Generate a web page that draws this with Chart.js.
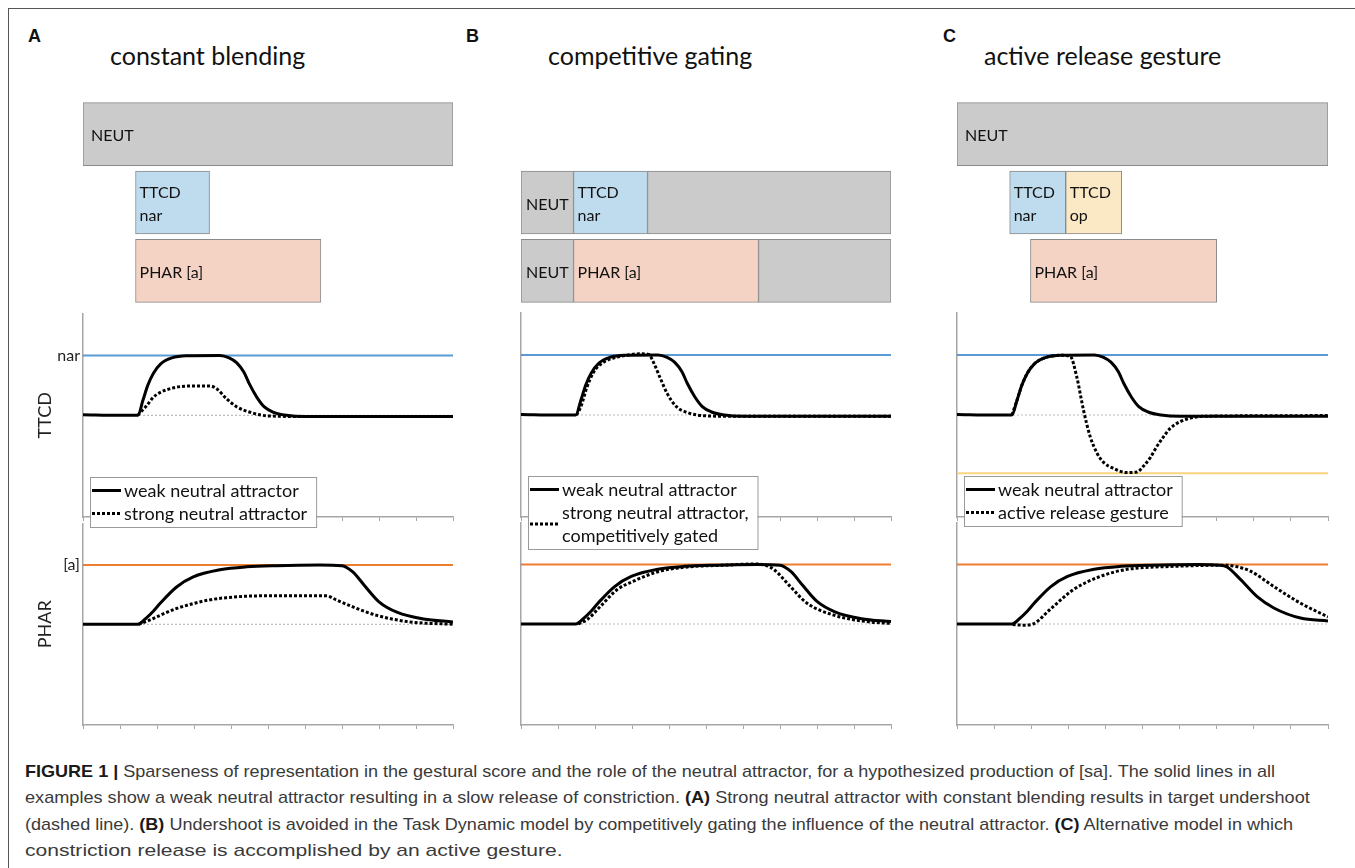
<!DOCTYPE html>
<html>
<head>
<meta charset="utf-8">
<script src="https://cdn.jsdelivr.net/npm/chart.js@4.4.1/dist/chart.umd.min.js"></script>
<style>
  body { margin: 0; width: 1355px; height: 868px; position: relative; overflow: hidden; background: #fff; font-family: Lato, sans-serif; }
  canvas { position: absolute; }
  .frameTop { position: absolute; left: 8px; top: 8px; right: 0; border-top: 1.5px solid #555; }
  .frameLeft { position: absolute; left: 8px; top: 8px; bottom: 0; border-left: 1.5px solid #555; }
  .letter { position: absolute; font: bold 18px/18px "Liberation Sans", Arial, sans-serif; color: #111; }
  .title { position: absolute; font-size: 25px; line-height: 25px; color: #111; white-space: nowrap; }
  .capline { position: absolute; left: 25px; font-family: "Liberation Sans Narrow", "Liberation Sans", sans-serif; font-size: 17px; line-height: 20px; color: #3a3a3a; white-space: nowrap; transform-origin: 0 0; }
  .capline b { color: #1a1a1a; }
</style>
</head>
<body>
<div class="frameTop"></div>
<div class="frameLeft"></div>

<div class="letter" style="left:28px;top:27px">A</div>
<div class="letter" style="left:466px;top:27px">B</div>
<div class="letter" style="left:943px;top:27px">C</div>
<div class="title" style="left:110px;top:43px">constant blending</div>
<div class="title" style="left:548px;top:43px">competitive gating</div>
<div class="title" style="left:984px;top:43px">active release gesture</div>

<div class="capline" data-w="1250" style="top:762px"><b>FIGURE 1 |</b> Sparseness of representation in the gestural score and the role of the neutral attractor, for a hypothesized production of [sa]. The solid lines in all</div>
<div class="capline" data-w="1285" style="top:788px">examples show a weak neutral attractor resulting in a slow release of constriction. <b>(A)</b> Strong neutral attractor with constant blending results in target undershoot</div>
<div class="capline" data-w="1268" style="top:815px">(dashed line). <b>(B)</b> Undershoot is avoided in the Task Dynamic model by competitively gating the influence of the neutral attractor. <b>(C)</b> Alternative model in which</div>
<div class="capline" data-w="538" style="top:841px">constriction release is accomplished by an active gesture.</div>

<script>
"use strict";

// time axis and value range shared by every panel
const timeTicks = [0, 1, 2, 3, 4, 5, 6, 7, 8, 9, 10];
const yRange = [-1.7, 1.7];
const restValue = 0;
const narTarget = 1;
const aTarget = 1;
const opTarget = -0.97;
const ttcdTickLabel = ["nar"];
const pharTickLabel = ["[a]"];

// gestural scores: [row, start, end, gesture, text]
const scoreRows = ["r0", "r1", "r2"];
const scoreA = [[0, 0, 10, "neut", "NEUT"], [1, 1.42, 3.42, "nar", "TTCD\nnar"], [2, 1.42, 6.43, "phar", "PHAR [a]"]];
const scoreB = [[1, 0, 1.42, "neut", "NEUT"], [1, 1.42, 3.42, "nar", "TTCD\nnar"], [1, 3.42, 10, "neut", ""],
                [2, 0, 1.42, "neut", "NEUT"], [2, 1.42, 6.42, "phar", "PHAR [a]"], [2, 6.42, 10, "neut", ""]];
const scoreC = [[0, 0, 10, "neut", "NEUT"], [1, 1.42, 2.93, "nar", "TTCD\nnar"], [1, 2.93, 4.44, "op", "TTCD\nop"], [2, 1.98, 7.0, "phar", "PHAR [a]"]];

// trajectories: [time, value]
const weakTTCD = [[0, 0.01], [1.0, 0], [1.48, 0], [1.62, 0.25], [1.75, 0.5], [1.9, 0.7], [2.1, 0.86], [2.4, 0.96], [2.8, 0.995], [3.7, 1.0],
                  [3.95, 0.96], [4.15, 0.88], [4.35, 0.72], [4.5, 0.52], [4.7, 0.3], [4.9, 0.14], [5.15, 0.05], [5.5, 0.0], [6.0, -0.02], [10, -0.02]];
const strongTTCD_A = [[1.48, 0], [1.6, 0.08], [1.72, 0.16], [1.9, 0.3], [2.08, 0.38], [2.45, 0.46], [2.9, 0.49], [3.44, 0.49], [3.62, 0.44],
                      [3.89, 0.27], [4.16, 0.14], [4.52, 0.05], [5.0, -0.01], [6.0, -0.02], [10, -0.02]];
const gatedTTCD_B = [[1.5, 0], [1.62, 0.14], [1.78, 0.46], [1.95, 0.7], [2.1, 0.82], [2.4, 0.93], [2.8, 0.99], [3.2, 1.02], [3.45, 1.01],
                     [3.6, 0.85], [3.76, 0.62], [3.95, 0.36], [4.2, 0.14], [4.5, 0.04], [4.9, -0.01], [5.5, -0.02], [10, -0.02]];
const activeTTCD_C = [[1.48, 0], [1.62, 0.25], [1.75, 0.5], [1.9, 0.7], [2.1, 0.86], [2.4, 0.96], [2.8, 0.995], [3.05, 0.98], [3.23, 0.63],
                      [3.41, 0.08], [3.59, -0.36], [3.77, -0.63], [3.95, -0.79], [4.22, -0.89], [4.58, -0.96], [4.85, -0.95], [5.03, -0.85],
                      [5.21, -0.71], [5.39, -0.52], [5.57, -0.36], [5.75, -0.22], [6.02, -0.11], [6.38, -0.04], [6.74, -0.02], [10, -0.01]];

const weakPHAR = [[0, 0], [1.48, 0], [1.7, 0.1], [1.9, 0.22], [2.08, 0.35], [2.53, 0.63], [2.98, 0.8], [3.7, 0.92], [4.42, 0.97], [5.23, 0.99],
                  [6.4, 1.0], [7.0, 0.99], [7.3, 0.88], [7.6, 0.66], [8.0, 0.38], [8.5, 0.2], [9.2, 0.09], [10, 0.04]];
const weakPHAR_C = [[0, 0], [1.48, 0], [1.7, 0.1], [1.9, 0.22], [2.08, 0.35], [2.53, 0.63], [2.98, 0.8], [3.7, 0.92], [4.42, 0.97], [5.23, 0.99],
                    [6.5, 1.0], [7.1, 0.99], [7.28, 0.96], [7.64, 0.75], [8.09, 0.46], [8.54, 0.27], [9.26, 0.1], [10, 0.05]];
const strongPHAR_A = [[1.5, 0], [1.8, 0.07], [2.08, 0.15], [2.5, 0.26], [2.98, 0.35], [3.4, 0.41], [3.88, 0.45], [4.78, 0.48], [6.58, 0.48],
                      [6.85, 0.41], [7.31, 0.29], [7.94, 0.15], [8.84, 0.04], [10, 0.0]];
const gatedPHAR_B = [[1.55, 0], [1.8, 0.08], [2.15, 0.3], [2.6, 0.58], [3.04, 0.72], [3.7, 0.88], [4.5, 0.96], [5.5, 0.99], [6.3, 1.01],
                     [6.6, 0.99], [6.83, 0.92], [7.28, 0.63], [7.73, 0.35], [8.45, 0.15], [9.35, 0.04], [10, 0.01]];
const activePHAR_C = [[1.5, -0.01], [1.8, -0.02], [2.05, 0], [2.5, 0.24], [3.14, 0.58], [3.86, 0.8], [4.58, 0.92], [5.84, 0.97], [7.27, 0.99],
                      [7.5, 0.97], [7.91, 0.89], [8.54, 0.63], [9.26, 0.35], [10, 0.12]];

const legendA = ["weak neutral attractor", "strong neutral attractor"];
const legendB = ["weak neutral attractor", "strong neutral attractor,\ncompetitively gated"];
const legendC = ["weak neutral attractor", "active release gesture"];


// layout
const cols = [{ x: 83, w: 370 }, { x: 521, w: 370 }, { x: 957, w: 371 }];
const AXIS_W = 70, PAD_R = 6, PAD_T = 12;
const gestureFill = { neut: "#cbcbcb", nar: "#bfdcef", op: "#fbe8c4", phar: "#f5d3c4" };
const FONT = "Lato, sans-serif";

function makeCanvas(left, top, width, height) {
    let c = document.createElement("canvas");
    c.width = width;
    c.height = height;
    c.style.left = left + "px";
    c.style.top = top + "px";
    c.style.width = width + "px";
    c.style.height = height + "px";
    document.body.appendChild(c);
    return c.getContext("2d");
}

// legend box floating over the plot, partly outside the chart area
const floatLegend = {
    id: "floatLegend",
    afterDraw(chart, args, opts) {
        if (!opts.items) return;
        let ctx = chart.ctx, area = chart.chartArea;
        let lineH = 23, padY = 2, padX = 2, sample = 29, gap = 3;
        ctx.save();
        ctx.font = "18px " + FONT;
        let maxW = 0, nLines = 0;
        opts.items.forEach(function(i) {
            chart.data.datasets[i].label.split("\n").forEach(function(l) {
                maxW = Math.max(maxW, ctx.measureText(l).width);
                nLines++;
            });
        });
        let x0 = Math.round(area.left + 7), y0 = Math.round(area.top + 163);
        let w = padX + sample + gap + maxW + 9, h = nLines * lineH + padY * 2;
        ctx.fillStyle = "#fff";
        ctx.fillRect(x0, y0, w, h);
        ctx.strokeStyle = "#9a9a9a";
        ctx.lineWidth = 1;
        ctx.strokeRect(x0 + 0.5, y0 + 0.5, w, h);
        let y = y0 + padY;
        opts.items.forEach(function(i) {
            let ds = chart.data.datasets[i];
            let lines = ds.label.split("\n");
            let mid = y + lines.length * lineH / 2;
            ctx.beginPath();
            ctx.setLineDash(ds.borderDash || []);
            ctx.strokeStyle = ds.borderColor;
            ctx.lineWidth = ds.borderWidth;
            ctx.moveTo(x0 + padX, mid);
            ctx.lineTo(x0 + padX + sample, mid);
            ctx.stroke();
            ctx.setLineDash([]);
            ctx.fillStyle = "#111";
            ctx.textBaseline = "middle";
            lines.forEach(function(l, k) {
                ctx.fillText(l, x0 + padX + sample + gap, y + lineH * (k + 0.5) + 1);
            });
            y += lines.length * lineH;
        });
        ctx.restore();
    }
};

// gesture names written inside the score boxes
const boxText = {
    id: "boxText",
    afterDatasetsDraw(chart) {
        let ctx = chart.ctx;
        chart.data.datasets.forEach(function(ds, di) {
            chart.getDatasetMeta(di).data.forEach(function(bar, i) {
                let text = ds.texts[i];
                if (!text) return;
                let p = bar.getProps(["x", "y", "base"], true);
                let left = Math.min(p.x, p.base), width = Math.abs(p.x - p.base);
                let lines = text.split("\n");
                ctx.save();
                ctx.font = "16px " + FONT;
                ctx.fillStyle = "#111";
                ctx.textBaseline = "middle";
                ctx.textAlign = "left";
                let tx = left + 4;
                if (width > 300) tx = left + 8;
                else if (text === "NEUT") { ctx.textAlign = "center"; tx = left + width / 2; }
                lines.forEach(function(l, k) {
                    ctx.fillText(l, tx, p.y + (k - (lines.length - 1) / 2) * 22.5 + 2);
                });
                ctx.restore();
            });
        });
    }
};

function drawScore(col, score) {
    let ctx = makeCanvas(col.x - 6, 90, col.w + 12, 225);
    return new Chart(ctx, {
        type: "bar",
        data: {
            labels: scoreRows,
            datasets: [{
                data: score.map(s => ({ y: scoreRows[s[0]], x: [s[1], s[2]] })),
                backgroundColor: score.map(s => gestureFill[s[3]]),
                texts: score.map(s => s[4]),
                borderColor: "#8a8a8a",
                borderWidth: 1,
                borderSkipped: false,
                barThickness: 63
            }]
        },
        options: {
            indexAxis: "y",
            responsive: false,
            animation: false,
            layout: { padding: { left: 6, right: 6, top: 10, bottom: 10 } },
            plugins: { legend: { display: false }, tooltip: { enabled: false } },
            scales: {
                x: { type: "linear", min: 0, max: 10, display: false },
                y: { type: "category", display: false }
            }
        },
        plugins: [boxText]
    });
}

const pts = arr => arr.map(p => ({ x: p[0], y: p[1] }));
const flat = v => [{ x: timeTicks[0], y: v }, { x: timeTicks[timeTicks.length - 1], y: v }];

function solidLine(data, label) {
    return { label: label, data: pts(data), borderColor: "#000", borderWidth: 3 };
}
function dottedLine(data, label) {
    return { label: label, data: pts(data), borderColor: "#000", borderWidth: 3, borderDash: [3, 2] };
}
function targetLine(v, color) {
    return { data: flat(v), borderColor: color, borderWidth: 2 };
}
function restLine() {
    return { data: flat(restValue), borderColor: "#bdbdbd", borderWidth: 1.2, borderDash: [2, 2] };
}

function drawPanel(col, areaTop, areaH, padBottom, datasets, axisTitle, tickValue, tickLabel, legendItems) {
    let ctx = makeCanvas(col.x - AXIS_W, areaTop - PAD_T, AXIS_W + col.w + PAD_R, PAD_T + areaH + 6 + padBottom);
    let labelled = axisTitle !== null;
    return new Chart(ctx, {
        type: "line",
        data: { datasets: datasets },
        options: {
            responsive: false,
            animation: false,
            layout: { padding: { top: PAD_T, right: PAD_R, bottom: padBottom, left: 0 } },
            elements: { point: { radius: 0 }, line: { cubicInterpolationMode: "monotone", fill: false } },
            plugins: {
                legend: { display: false },
                tooltip: { enabled: false },
                floatLegend: { items: legendItems }
            },
            scales: {
                x: {
                    type: "linear", min: timeTicks[0], max: timeTicks[timeTicks.length - 1],
                    afterBuildTicks: s => { s.ticks = timeTicks.map(v => ({ value: v })); },
                    ticks: { display: false },
                    grid: { drawOnChartArea: false, drawTicks: true, tickLength: 4, color: "#a6a6a6" },
                    border: { color: "#a6a6a6", width: 1.5 },
                    afterFit: s => { s.height = 6; }
                },
                y: {
                    type: "linear", min: yRange[0], max: yRange[1],
                    afterBuildTicks: s => { s.ticks = labelled ? [{ value: tickValue }] : []; },
                    ticks: { display: labelled, padding: 3, color: "#222", font: { family: FONT, size: 16 }, callback: () => tickLabel },
                    grid: { drawOnChartArea: false, drawTicks: false },
                    border: { color: "#a6a6a6", width: 1.5 },
                    title: { display: labelled, text: axisTitle || "", color: "#222", font: { family: FONT, size: 18 }, padding: { top: 21, bottom: 0 } },
                    afterFit: s => { s.width = AXIS_W; }
                }
            }
        },
        plugins: [floatLegend]
    });
}

// gestural scores
drawScore(cols[0], scoreA);
drawScore(cols[1], scoreB);
drawScore(cols[2], scoreC);

// PHAR panels first so the TTCD legends sit on top of them
drawPanel(cols[0], 523, 202, 8,
    [solidLine(weakPHAR, ""), dottedLine(strongPHAR_A, ""), targetLine(aTarget, "#ed7d31"), restLine()],
    "PHAR", aTarget, pharTickLabel[0], null);
drawPanel(cols[1], 523, 202, 8,
    [solidLine(weakPHAR, ""), dottedLine(gatedPHAR_B, ""), targetLine(aTarget, "#ed7d31"), restLine()],
    null, null, null, null);
drawPanel(cols[2], 523, 202, 8,
    [solidLine(weakPHAR_C, ""), dottedLine(activePHAR_C, ""), targetLine(aTarget, "#ed7d31"), restLine()],
    null, null, null, null);

drawPanel(cols[0], 313, 204, 32,
    [solidLine(weakTTCD, legendA[0]), dottedLine(strongTTCD_A, legendA[1]), targetLine(narTarget, "#5b9bd5"), restLine()],
    "TTCD", narTarget, ttcdTickLabel[0], [0, 1]);
drawPanel(cols[1], 313, 204, 32,
    [solidLine(weakTTCD, legendB[0]), dottedLine(gatedTTCD_B, legendB[1]), targetLine(narTarget, "#5b9bd5"), restLine()],
    null, null, null, [0, 1]);
drawPanel(cols[2], 313, 204, 32,
    [solidLine(weakTTCD, legendC[0]), dottedLine(activeTTCD_C, legendC[1]), targetLine(narTarget, "#5b9bd5"), targetLine(opTarget, "#f9d57f"), restLine()],
    null, null, null, [0, 1]);

// stretch caption lines to the widths of the printed figure
document.querySelectorAll(".capline").forEach(function(el) {
    let target = parseFloat(el.dataset.w);
    el.style.transform = "scaleX(" + (target / el.offsetWidth) + ")";
});
</script>
</body>
</html>
